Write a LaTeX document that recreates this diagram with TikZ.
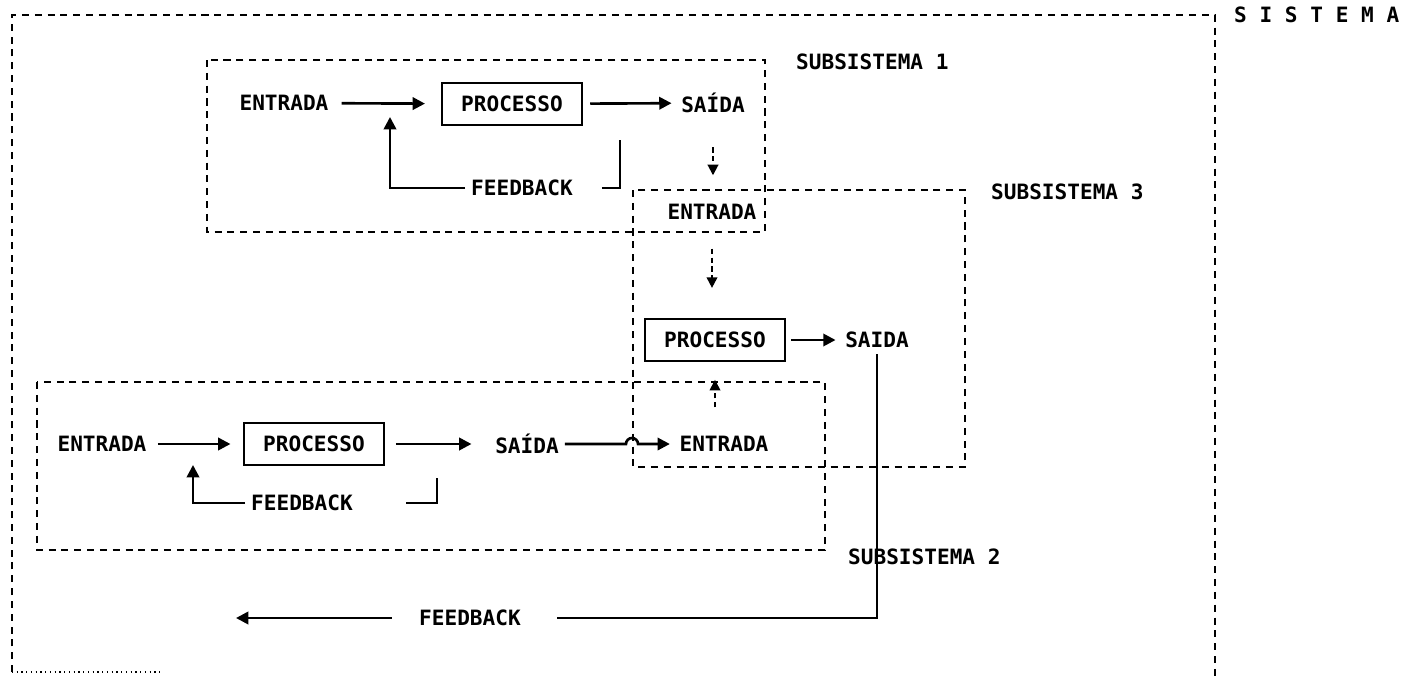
\documentclass[tikz,border=0pt]{standalone}
\usepackage{fontspec}
\usepackage{tikz}
\usetikzlibrary{arrows.meta}
\newfontfamily\dotfont{DejaVu Sans Mono}

\begin{document}
\begin{tikzpicture}[x=0.02cm,y=-0.02cm,
  font=\dotfont\bfseries\fontsize{12}{14}\selectfont,
  bound/.style={line width=1.2pt,dash pattern=on 4pt off 3.3pt},
  procbox/.style={draw,line width=1.4pt,minimum width=2.8cm,minimum height=0.84cm,inner sep=0pt},
  flow/.style={line width=1.5pt,-{Triangle[length=7pt,width=7pt]},shorten >=2pt},
  fbline/.style={line width=1.5pt},
  dflow/.style={line width=1.1pt,dash pattern=on 3pt off 2pt,-{Triangle[length=6pt,width=6pt]}}]
\useasboundingbox (0,0) rectangle (1401,677);
% sistema
\draw[bound] (12,672) -- (12,15) -- (1215,15) -- (1215,677);
\draw[line width=0.7pt,dotted] (12,672) -- (160,672);
\node[anchor=west] (sis) at (1228,15) {S I S T E M A};
% subsistema 1
\draw[bound] (207,60) rectangle (765,232);
\node[anchor=west] (lab1) at (790,62) {SUBSISTEMA 1};
\node (ent1) at (284,103) {ENTRADA};
\node[procbox] (proc1) at (512,104) {PROCESSO};
\node (sai1) at (713,103) {SAÍDA};
\node (fb1) at (522,188) {FEEDBACK};
\coordinate (fb1top) at (620,140);
\coordinate (fb1tip) at (390,117);
\draw[flow,shorten <=4pt,shorten >=9pt] (ent1) -- (proc1);
\draw[flow,shorten <=4pt] (proc1) -- (sai1);
\draw[fbline,shorten <=13pt] (fb1.east) -| (fb1top);
\draw[flow,shorten >=0pt] (fb1.west) -| (fb1tip);
% subsistema 3
\draw[bound] (633,190) rectangle (965,467);
\node[anchor=west] (lab3) at (985,192) {SUBSISTEMA 3};
\node (ent3) at (712,212) {ENTRADA};
\node[procbox] (proc3) at (715,340) {PROCESSO};
\node (sai3) at (877,340) {SAIDA};
\draw[dflow,shorten <=16pt,shorten >=13pt] (sai1) -- (sai1 |- ent3.north);
\draw[dflow,shorten <=13pt,shorten >=17pt] (ent3) -- (ent3 |- proc3.north);
\draw[flow,shorten <=3pt] (proc3) -- (sai3);
% subsistema 2
\draw[bound] (37,382) rectangle (825,550);
\node[anchor=west] (lab2) at (842,557) {SUBSISTEMA 2};
\node (ent2) at (102,444) {ENTRADA};
\node[procbox] (proc2) at (314,444) {PROCESSO};
\node (sai2) at (527,444) {SAÍDA};
\node (ent23) at (724,444) {ENTRADA};
\node (fb2) at (302,503) {FEEDBACK};
\coordinate (fb2top) at (437,478);
\coordinate (fb2tip) at (193,465);
\draw[flow,shorten <=3pt,shorten >=7pt] (ent2) -- (proc2);
\draw[flow,shorten <=6pt,shorten >=10pt] (proc2) -- (sai2);
\draw[flow] (sai2.east) -- (626,444) arc (180:360:6) -- (ent23.west);
\draw[fbline,shorten <=27pt] (fb2.east) -| (fb2top);
\draw[flow,shorten >=0pt] (fb2.west) -| (fb2tip);
\draw[dflow,shorten <=13pt,shorten >=10pt] (ent23.north -| proc3) -- (proc3.south);
% feedback do sistema
\node (fb3) at (470,618) {FEEDBACK};
\coordinate (fb3tip) at (236,618);
\draw[fbline,shorten >=17pt] (sai3.south) |- (fb3.east);
\draw[flow,shorten <=12pt,shorten >=0pt] (fb3.west) -- (fb3tip);
\end{tikzpicture}
\end{document}
